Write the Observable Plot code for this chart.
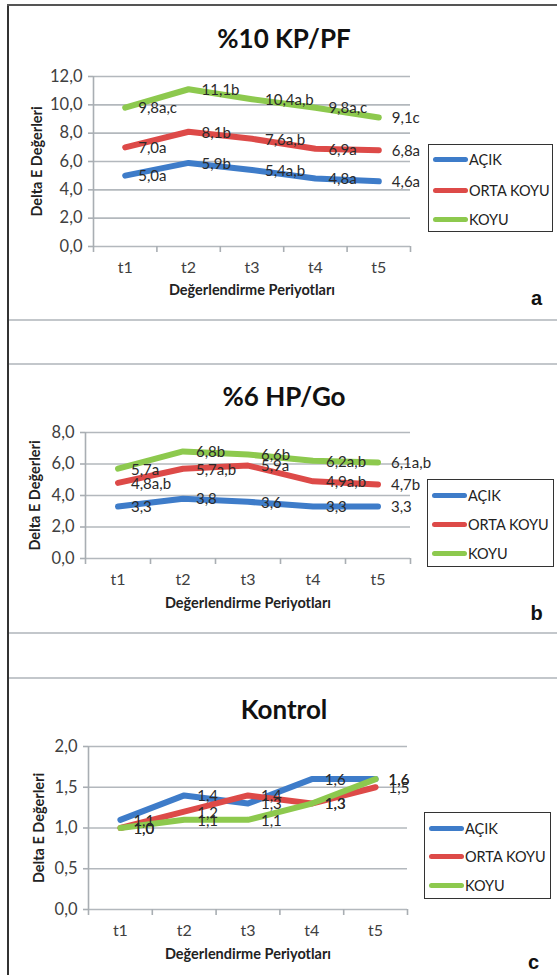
<!DOCTYPE html>
<html>
<head>
<meta charset="utf-8">
<script src="https://cdn.jsdelivr.net/npm/d3@7"></script>
<script src="https://cdn.jsdelivr.net/npm/@observablehq/plot@0.6"></script>
<style>
  html, body { margin: 0; padding: 0; background: #fff; }
  #page { position: relative; width: 557px; height: 975px; background: #fff; overflow: hidden; font-family: Lato, "Open Sans", sans-serif; }
  .abs { position: absolute; }
  .title { position: absolute; left: 0; width: 568px; text-align: center; font-weight: bold; font-size: 26px; color: #111; line-height: 1; transform: translateY(-50%); }
  .legend { position: absolute; border: 1.5px solid #333; box-sizing: border-box; background: #fff; }
  .entry { position: absolute; left: 0; height: 20px; transform: translateY(-50%); display: flex; align-items: center; font-size: 14.5px; color: #222; white-space: nowrap; }
  .sw { width: 35px; height: 5px; border-radius: 3px; margin-left: 4px; margin-right: 1px; }
  .hline { position: absolute; height: 2px; background: #c3c7cb; left: 9px; right: 0; }
  .panel { position: absolute; left: 0; }
</style>
</head>
<body>
<div id="page"></div>
<script>
// ---------- data ----------
const categories = ["t1", "t2", "t3", "t4", "t5"];
const seriesNames = ["AÇIK", "ORTA KOYU", "KOYU"];
const seriesColors = ["#3E7CC9", "#DD4A48", "#8DC94E"];
const yAxisTitle = "Delta E Değerleri";
const xAxisTitle = "Değerlendirme Periyotları";

// Panel a: %10 KP/PF
const titleA = "%10 KP/PF";
const aAcik = [5.0, 5.9, 5.4, 4.8, 4.6];
const aOrta = [7.0, 8.1, 7.6, 6.9, 6.8];
const aKoyu = [9.8, 11.1, 10.4, 9.8, 9.1];
const aAcikLabels = ["5,0a", "5,9b", "5,4a,b", "4,8a", "4,6a"];
const aOrtaLabels = ["7,0a", "8,1b", "7,6a,b", "6,9a", "6,8a"];
const aKoyuLabels = ["9,8a,c", "11,1b", "10,4a,b", "9,8a,c", "9,1c"];
const aYTicks = [0, 2, 4, 6, 8, 10, 12];

// Panel b: %6 HP/Go
const titleB = "%6 HP/Go";
const bAcik = [3.3, 3.8, 3.6, 3.3, 3.3];
const bOrta = [4.8, 5.7, 5.9, 4.9, 4.7];
const bKoyu = [5.7, 6.8, 6.6, 6.2, 6.1];
const bAcikLabels = ["3,3", "3,8", "3,6", "3,3", "3,3"];
const bOrtaLabels = ["4,8a,b", "5,7a,b", "5,9a", "4,9a,b", "4,7b"];
const bKoyuLabels = ["5,7a", "6,8b", "6,6b", "6,2a,b", "6,1a,b"];
const bYTicks = [0, 2, 4, 6, 8];

// Panel c: Kontrol
const titleC = "Kontrol";
const cAcik = [1.1, 1.4, 1.3, 1.6, 1.6];
const cOrta = [1.0, 1.2, 1.4, 1.3, 1.5];
const cKoyu = [1.0, 1.1, 1.1, 1.3, 1.6];
const cAcikLabels = ["1,1", "1,4", "1,3", "1,6", "1,6"];
const cOrtaLabels = ["1,0", "1,2", "1,4", "1,3", "1,5"];
const cKoyuLabels = ["1,0", "1,1", "1,1", "1,3", "1,6"];
const cYTicks = [0, 0.5, 1, 1.5, 2];

const panelLetters = ["a", "b", "c"];

// ---------- build ----------
const page = document.getElementById("page");
function add(html) { page.insertAdjacentHTML("beforeend", html); }

// frame lines
add(`<div class="abs" style="left:7px;top:4px;width:2px;height:971px;background:#333"></div>`);
add(`<div class="abs" style="left:7px;top:4px;right:0;height:2px;background:#555"></div>`);
[319, 363, 632, 677].forEach(y => add(`<div class="hline" style="top:${y}px"></div>`));

const fmt = v => v.toFixed(1).replace(".", ",");

function rowsFor(values, labels) {
  return values.flatMap((vals, si) => vals.map((v, i) => ({
    series: seriesNames[si], x: i + 0.5, value: v, label: labels[si][i]
  })));
}

function drawPanel(cfg) {
  const rows = rowsFor(cfg.values, cfg.labels);
  const W = 557;
  const plot = Plot.plot({
    width: W,
    height: cfg.height,
    marginLeft: cfg.xLeft,
    marginRight: W - cfg.xRight,
    marginTop: cfg.mt,
    marginBottom: cfg.mb,
    x: {domain: [0, categories.length], axis: null},
    y: {domain: [0, cfg.yTicks[cfg.yTicks.length - 1]], axis: null},
    color: {domain: seriesNames, range: seriesColors},
    style: {background: "transparent", fontFamily: "Lato, 'Open Sans', sans-serif", color: "#404040", overflow: "visible"},
    marks: [
      Plot.ruleY(cfg.yTicks, {stroke: "#b3b8bd", strokeWidth: 1.6}),
      Plot.ruleX([0], {stroke: "#a9aeb3", strokeWidth: 1.6}),
      Plot.axisY({ticks: cfg.yTicks, label: null, tickSize: 5, tickPadding: 6, tickFormat: fmt, fontSize: 16.5, stroke: "#a9aeb3", strokeWidth: 1.6}),
      Plot.axisX({ticks: d3.range(0, categories.length + 1), label: null, tickSize: 6, tickFormat: () => "", stroke: "#a9aeb3", strokeWidth: 1.6}),
      Plot.axisX({ticks: categories.map((c, i) => i + 0.5), label: null, tickSize: 0, tickPadding: 15, tickFormat: v => categories[Math.floor(v)], fontSize: 16}),
      Plot.line(rows, {x: "x", y: "value", z: "series", stroke: "series", strokeWidth: 6, strokeLinejoin: "round", strokeLinecap: "round"}),
      Plot.text(rows, {x: "x", y: "value", text: "label", dx: 13, dy: 1, textAnchor: "start", fontSize: 15, fill: "#2a2a2a"}),
      Plot.text([yAxisTitle], {text: d => d, frameAnchor: "left", textAnchor: "middle", lineAnchor: "middle", rotate: -90, dx: cfg.yTitleDx, fontWeight: "bold", fontSize: 14.5, fill: "#222"}),
      Plot.text([xAxisTitle], {text: d => d, frameAnchor: "bottom", textAnchor: "middle", lineAnchor: "middle", dy: cfg.xTitleDy, fontWeight: "bold", fontSize: 14.5, fill: "#222"}),
      Plot.text([cfg.letter], {text: d => d, frameAnchor: "bottom-right", textAnchor: "middle", lineAnchor: "middle", dx: cfg.letterDx, dy: cfg.letterDy, fontWeight: "bold", fontSize: 20, fill: "#111", fontFamily: "'Liberation Sans', Arial, sans-serif"})
    ]
  });
  plot.classList.add("panel");
  plot.style.top = cfg.top + "px";
  page.appendChild(plot);

  add(`<div class="title" style="top:${cfg.titleY}px">${cfg.title}</div>`);
  const lg = cfg.legend;
  const entries = seriesNames.map((s, i) =>
    `<div class="entry" style="top:${lg.rows[i] - lg.top}px"><div class="sw" style="background:${seriesColors[i]}"></div>${s}</div>`).join("");
  add(`<div class="legend" style="left:${lg.left}px;top:${lg.top}px;width:${lg.right - lg.left}px;height:${lg.bottom - lg.top}px">${entries}</div>`);
}

drawPanel({
  top: 60, height: 250, mt: 16, mb: 64, xLeft: 93, xRight: 410,
  values: [aAcik, aOrta, aKoyu], labels: [aAcikLabels, aOrtaLabels, aKoyuLabels], yTicks: aYTicks,
  yTitleDx: -56, xTitleDy: 44, letter: panelLetters[0], letterDx: 126, letterDy: 52,
  title: titleA, titleY: 38,
  legend: {left: 428, right: 553, top: 144, bottom: 232, rows: [158, 189, 218]}
});
drawPanel({
  top: 416, height: 214, mt: 16, mb: 72, xLeft: 85, xRight: 410,
  values: [bAcik, bOrta, bKoyu], labels: [bAcikLabels, bOrtaLabels, bKoyuLabels], yTicks: bYTicks,
  yTitleDx: -50, xTitleDy: 45, letter: panelLetters[1], letterDx: 126, letterDy: 55,
  title: titleB, titleY: 396,
  legend: {left: 427, right: 554, top: 479, bottom: 567, rows: [494, 523, 552]}
});
drawPanel({
  top: 730, height: 245, mt: 16, mb: 66, xLeft: 88, xRight: 407,
  values: [cAcik, cOrta, cKoyu], labels: [cAcikLabels, cOrtaLabels, cKoyuLabels], yTicks: cYTicks,
  yTitleDx: -49, xTitleDy: 45, letter: panelLetters[2], letterDx: 126, letterDy: 53,
  title: titleC, titleY: 709,
  legend: {left: 424, right: 551, top: 812, bottom: 899, rows: [827, 855, 884]}
});
</script>
</body>
</html>
